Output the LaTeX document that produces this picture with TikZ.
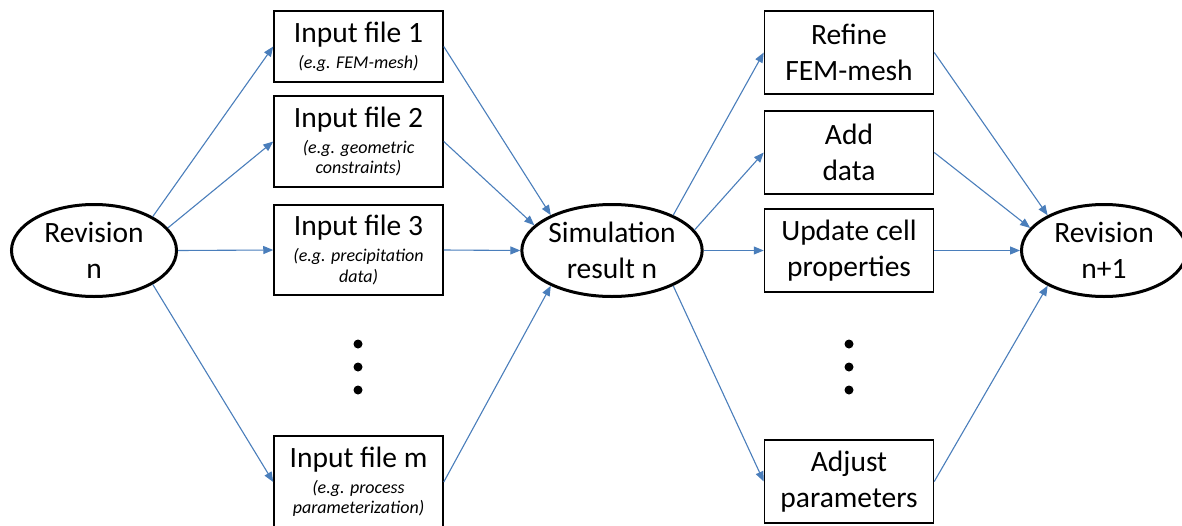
\documentclass[tikz,border=0pt]{standalone}
\usepackage{fontspec}
\setmainfont{Carlito}
\usetikzlibrary{arrows.meta,shapes.geometric}
\definecolor{linkblue}{HTML}{4A7EBB}
\newcommand{\eg}[1]{{\fontsize{18}{21}\selectfont\itshape #1}}

\begin{document}
\begin{tikzpicture}[x=1pt,y=-1pt,
                    big font/.style={font=\fontsize{29.5}{35.4}\selectfont},
                    rev node/.style={ellipse,draw,line width=3pt,minimum width=165pt,
                                     minimum height=92pt,inner sep=0pt,align=center,big font},
                    file node/.style={rectangle,draw,line width=1.5pt,minimum width=169pt,
                                      inner sep=0pt,align=center,big font},
                    link/.style={-{Triangle[length=10pt,width=8pt]},linkblue,line width=1.1pt}]
  \useasboundingbox (0,0) rectangle (1182,525);

  \node[rev node] (r1) at (94,250.5) {Revision\\n};
  \node[file node,minimum height=71pt] (f1) at (358.5,46.5)
    {Input file 1\\[-9.5pt]\eg{(e.g. FEM-mesh)}};
  \node[file node,minimum height=91pt] (f2) at (358.5,141.5)
    {Input file 2\\[-9.5pt]\eg{(e.g. geometric}\\[-15pt]\eg{constraints)}};
  \node[file node,minimum height=90pt] (f3) at (358.5,250)
    {Input file 3\\[-9.5pt]\eg{(e.g. precipitation}\\[-15pt]\eg{data)}};
  \node[file node,minimum height=92pt] (fm) at (358.5,482)
    {Input file m\\[-9.5pt]\eg{(e.g. process}\\[-15pt]\eg{parameterization)}};

  \node[rev node] (s) at (612,250.5) {Simulation\\result n};
  \node[file node,minimum height=83pt] (a1) at (849,52.5) {Refine\\FEM-mesh};
  \node[file node,minimum height=83pt] (a2) at (849,152.5) {Add\\data};
  \node[file node,minimum height=83pt] (a3) at (849,250.5) {Update cell\\properties};
  \node[file node,minimum height=83pt] (a4) at (849,481.5) {Adjust\\parameters};
  \node[rev node] (r2) at (1104,250.5) {Revision\\n+1};

  % vertical dots
  \foreach \x in {358,849}
    \foreach \y in {344,367,390}
      \fill (\x,\y) circle (4.5pt);

  \path[link]
    (r1.30) edge (f1.west)
    (r1.17) edge (f2.west)
    (r1.east) edge (f3.west)
    (r1.-30) edge (fm.west)
    (f1.east) edge (s.150)
    (f2.east) edge (s.162)
    (f3.east) edge (s.west)
    (fm.east) edge (s.-150)
    (s.30) edge (a1.west)
    (s.14) edge (a2.west)
    (s.east) edge (a3.west)
    (s.-30) edge (a4.west)
    (a1.east) edge (r2.148)
    (a2.east) edge (r2.163)
    (a3.east) edge (r2.west)
    (a4.east) edge (r2.-148);
\end{tikzpicture}
\end{document}
